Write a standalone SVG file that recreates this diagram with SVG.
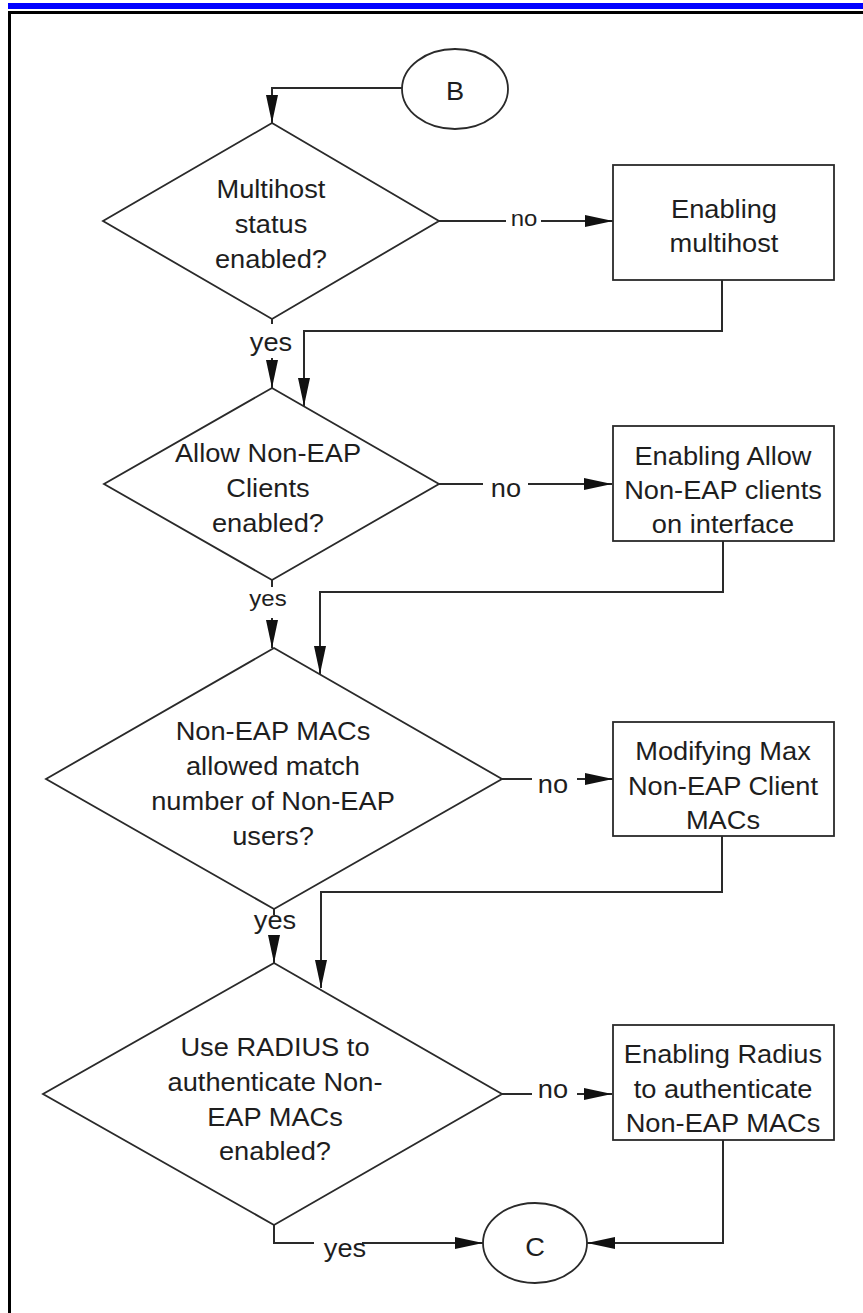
<svg xmlns="http://www.w3.org/2000/svg" width="863" height="1313" viewBox="0 0 863 1313">
  <style>
    .shape { fill: #ffffff; stroke: #2a2a2a; stroke-width: 1.8; }
    .conn { fill: none; stroke: #2a2a2a; stroke-width: 2; }
    .t { font-family: "Liberation Sans", Arial, sans-serif; font-size: 25px; fill: #1e1e1e; text-anchor: middle; transform-box: fill-box; transform-origin: center; transform: scaleX(1.09); }
    .s { font-size: 22px; }
  </style>
  <defs>
    <marker id="arr" markerUnits="userSpaceOnUse" markerWidth="28" markerHeight="12" refX="28" refY="6" orient="auto">
      <path d="M0,0 L28,6 L0,12 z" fill="#111111"/>
    </marker>
  </defs>
  <rect width="863" height="1313" fill="#ffffff"/>
  <g id="frame">
    <rect x="8" y="3" width="855" height="6" fill="#0000ff"/>
    <line x1="8" y1="12.5" x2="863" y2="12.5" stroke="#000000" stroke-width="3"/>
    <line x1="9.5" y1="11" x2="9.5" y2="1313" stroke="#000000" stroke-width="3"/>
  </g>
  <g id="connectors">
    <path class="conn" d="M402,88 H272 V123" marker-end="url(#arr)"/>
    <path class="conn" d="M272,319 V324"/>
    <path class="conn" d="M272,358 V388" marker-end="url(#arr)"/>
    <path class="conn" d="M272,580 V587"/>
    <path class="conn" d="M272,618 V648" marker-end="url(#arr)"/>
    <path class="conn" d="M274,909 V915"/>
    <path class="conn" d="M274,936 V963" marker-end="url(#arr)"/>
    <path class="conn" d="M274,1225 V1243 H314"/>
    <path class="conn" d="M362,1243 H483" marker-end="url(#arr)"/>
    <path class="conn" d="M439,221 H506"/>
    <path class="conn" d="M541,221 H613" marker-end="url(#arr)"/>
    <path class="conn" d="M439,484 H483"/>
    <path class="conn" d="M528,484 H612" marker-end="url(#arr)"/>
    <path class="conn" d="M502,779 H532"/>
    <path class="conn" d="M577,779 H613" marker-end="url(#arr)"/>
    <path class="conn" d="M502,1094 H532"/>
    <path class="conn" d="M577,1094 H612" marker-end="url(#arr)"/>
    <path class="conn" d="M722,280 V331 H304 V406" marker-end="url(#arr)"/>
    <path class="conn" d="M723,541 V592 H320 V674" marker-end="url(#arr)"/>
    <path class="conn" d="M722,836 V892 H321 V988" marker-end="url(#arr)"/>
    <path class="conn" d="M723,1140 V1243 H587" marker-end="url(#arr)"/>
    <text class="t s" x="524" y="226">no</text>
    <text class="t" x="506" y="497">no</text>
    <text class="t" x="553" y="793">no</text>
    <text class="t" x="553" y="1098">no</text>
    <text class="t" x="271" y="351">yes</text>
    <text class="t s" x="268" y="606">yes</text>
    <text class="t" x="275" y="929">yes</text>
    <text class="t" x="345" y="1257">yes</text>
  </g>
  <g id="nodeB">
    <ellipse class="shape" cx="455" cy="89" rx="53" ry="40"/>
    <text class="t" x="455" y="100">B</text>
  </g>
  <g id="decision1">
    <polygon class="shape" points="272,123 439,221 272,319 103,221"/>
    <text class="t" x="271" y="198">Multihost</text>
    <text class="t" x="271" y="233">status</text>
    <text class="t" x="271" y="268">enabled?</text>
  </g>
  <g id="process1">
    <rect class="shape" x="613" y="165" width="221" height="115"/>
    <text class="t" x="724" y="218">Enabling</text>
    <text class="t" x="724" y="252">multihost</text>
  </g>
  <g id="decision2">
    <polygon class="shape" points="272,388 439,484 272,580 104,484"/>
    <text class="t" x="268" y="462">Allow Non-EAP</text>
    <text class="t" x="268" y="497">Clients</text>
    <text class="t" x="268" y="532">enabled?</text>
  </g>
  <g id="process2">
    <rect class="shape" x="613" y="426" width="221" height="115"/>
    <text class="t" x="723" y="465">Enabling Allow</text>
    <text class="t" x="723" y="499">Non-EAP clients</text>
    <text class="t" x="723" y="533">on interface</text>
  </g>
  <g id="decision3">
    <polygon class="shape" points="274,648 502,779 274,909 46,779"/>
    <text class="t" x="273" y="740">Non-EAP MACs</text>
    <text class="t" x="273" y="775">allowed match</text>
    <text class="t" x="273" y="810">number of Non-EAP</text>
    <text class="t" x="273" y="845">users?</text>
  </g>
  <g id="process3">
    <rect class="shape" x="613" y="722" width="221" height="114"/>
    <text class="t" x="723" y="760">Modifying Max</text>
    <text class="t" x="723" y="795">Non-EAP Client</text>
    <text class="t" x="723" y="829">MACs</text>
  </g>
  <g id="decision4">
    <polygon class="shape" points="274,963 502,1094 274,1225 43,1094"/>
    <text class="t" x="275" y="1056">Use RADIUS to</text>
    <text class="t" x="275" y="1091">authenticate Non-</text>
    <text class="t" x="275" y="1126">EAP MACs</text>
    <text class="t" x="275" y="1160">enabled?</text>
  </g>
  <g id="process4">
    <rect class="shape" x="613" y="1025" width="221" height="115"/>
    <text class="t" x="723" y="1063">Enabling Radius</text>
    <text class="t" x="723" y="1098">to authenticate</text>
    <text class="t" x="723" y="1132">Non-EAP MACs</text>
  </g>
  <g id="nodeC">
    <ellipse class="shape" cx="535" cy="1243" rx="52" ry="40"/>
    <text class="t" x="535" y="1256">C</text>
  </g>
</svg>
